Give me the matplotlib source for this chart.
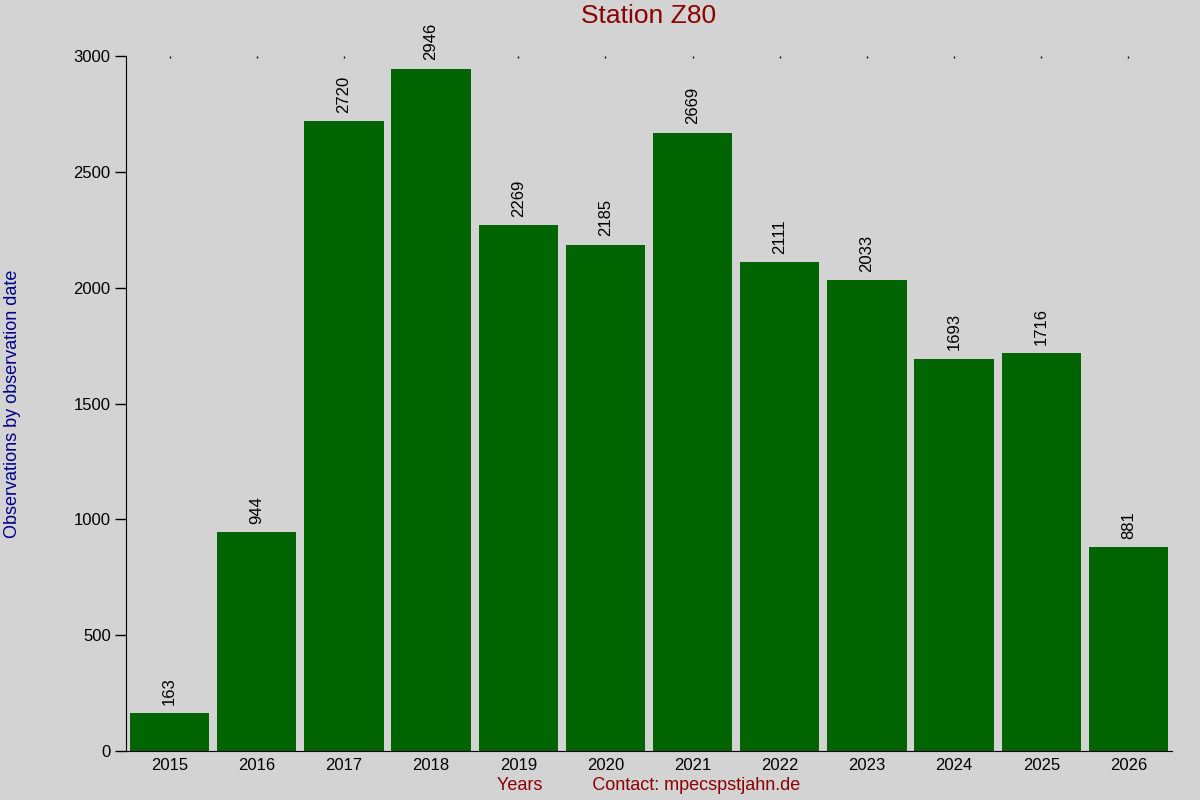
import matplotlib
matplotlib.use('Agg')
import matplotlib.pyplot as plt

# data
years = [2015, 2016, 2017, 2018, 2019, 2020, 2021, 2022, 2023, 2024, 2025, 2026]
counts = [163, 944, 2720, 2946, 2269, 2185, 2669, 2111, 2033, 1693, 1716, 881]
yticks = [0, 500, 1000, 1500, 2000, 2500, 3000]

plt.rcParams['font.family'] = ['Liberation Sans', 'DejaVu Sans']

bg = '#d3d3d3'
fig = plt.figure(figsize=(12, 8), dpi=100, facecolor=bg)
ax = fig.add_axes([0.105, 0.06125, 0.8717, 0.86875], facecolor=bg)

ax.bar(years, counts, width=0.91, color='#006400')

for x, v in zip(years, counts):
    ax.annotate(str(v), (x, v), xytext=(0, 6), textcoords='offset points',
                rotation=90, ha='center', va='bottom', fontsize=12, color='black')

ax.set_xlim(2014.5, 2026.5)
ax.set_ylim(0, 3000)
ax.set_xticks(years)
ax.set_xticklabels([str(y) for y in years], fontsize=12)
ax.set_yticks(yticks)
ax.set_yticklabels([str(t) for t in yticks], fontsize=12)

ax.spines['top'].set_visible(False)
ax.spines['right'].set_visible(False)
ax.tick_params(axis='y', length=8, width=1, direction='out', pad=3)
ax.tick_params(axis='x', bottom=False, top=True, direction='in', length=1.2, width=1, pad=5)

ax.set_title('Station Z80', fontsize=19, color='#8b0000', pad=24)
ax.set_ylabel('Observations by observation date', fontsize=13, color='#00008b', labelpad=38)
ax.set_xlabel('Years          Contact: mpecspstjahn.de', fontsize=13, color='#8b0000', labelpad=3)

fig.savefig('out.png', dpi=100, facecolor=bg)
